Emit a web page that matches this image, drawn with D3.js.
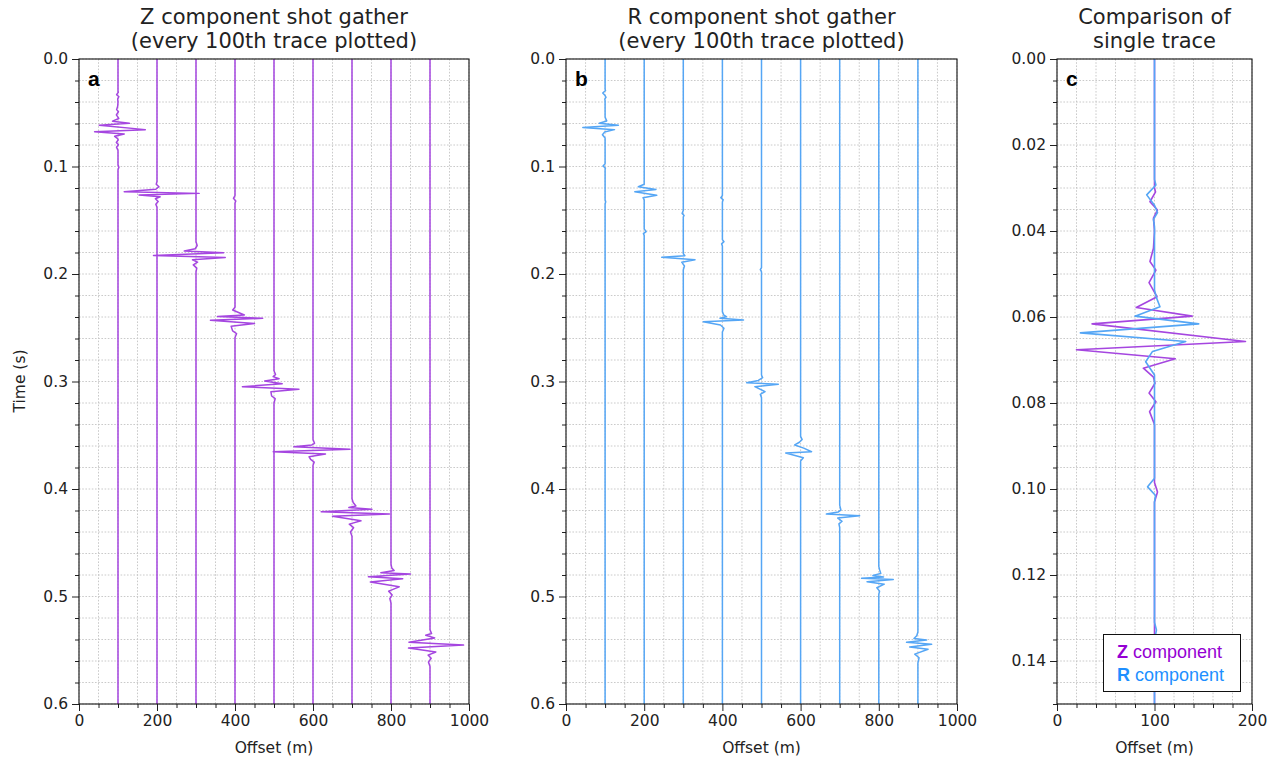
<!DOCTYPE html>
<html>
<head>
<meta charset="utf-8">
<script src="https://cdn.jsdelivr.net/npm/d3@7"></script>
<style>
  html, body { margin: 0; padding: 0; background: #fff; }
</style>
</head>
<body>
<svg id="fig" width="1270" height="760" font-family="DejaVu Sans, sans-serif"></svg>
<script>
// ---- Data ---------------------------------------------------------------
// Receiver offsets of the plotted traces (m)
const offsets = [100, 200, 300, 400, 500, 600, 700, 800, 900];

// Z component wavelets: [time (s), deflection in gather display units]
const zWavelets = [
  [[0.030,0],[0.0309,0.8],[0.0332,-3.5],[0.0351,2.3],[0.037,-0.8],[0.040,0],[0.044,-0.8],[0.0471,-3.5],
   [0.0491,1.1],[0.0520,-4.2],[0.0553,2],[0.0578,-14],[0.0598,29],[0.0616,-48],[0.0657,70],[0.0676,-60],
   [0.0697,16],[0.0719,-8.6],[0.0740,-0.8],[0.0754,0.4],[0.0777,-4.2],[0.0797,1.1],[0.0820,-3.8],[0.085,0],
   [0.0985,0],[0.1007,2.3],[0.103,0]],
  [[0.114,0],[0.1165,-2],[0.1188,5],[0.1212,-3],[0.1234,-84],[0.1250,108],[0.1266,-46],[0.1282,8],
   [0.1300,-4],[0.1325,3],[0.1350,-3],[0.138,0]],
  [[0.170,0],[0.1735,3],[0.1765,-2],[0.1786,-30],[0.1802,71],[0.1828,-109],[0.1846,75],[0.1868,-9],
   [0.1890,4],[0.1915,-7],[0.1945,2],[0.198,0]],
  [[0.127,0],[0.1296,-4],[0.132,2],[0.134,0],
   [0.231,0],[0.2335,-6],[0.2381,24],[0.2395,-45],[0.2412,71],[0.2431,-63],[0.2460,50],[0.2485,-10],
   [0.2530,-6],[0.2555,4],[0.259,0]],
  [[0.290,0],[0.2935,4],[0.2955,-2],[0.2975,13],[0.2995,-24],[0.3020,21],[0.3048,-81],[0.3072,64],
   [0.3095,-8],[0.3135,-6],[0.3160,3],[0.320,0]],
  [[0.354,0],[0.3575,4],[0.3590,-3],[0.3607,-49],[0.3630,95],[0.3653,-102],[0.3675,32],[0.3700,-10],
   [0.3725,-6],[0.3750,3],[0.378,0]],
  [[0.409,0],[0.4125,3],[0.4158,10],[0.4172,-8],[0.4189,51],[0.4211,-79],[0.4233,96],[0.4254,-50],
   [0.4296,23],[0.4327,-7],[0.4360,4],[0.4400,-4],[0.444,0]],
  [[0.470,0],[0.4735,2],[0.4758,8],[0.4778,-26],[0.4790,50],[0.4816,-58],[0.4834,30],[0.4865,-53],
   [0.4910,21],[0.4950,-6],[0.4985,3],[0.502,-3],[0.506,0]],
  [[0.531,0],[0.5345,4],[0.5360,-11],[0.5385,12],[0.5425,-54],[0.5452,86],[0.5480,-55],[0.5516,15],
   [0.5545,-5],[0.5575,3],[0.561,-4],[0.565,0]]
];

// R component wavelets: [time (s), deflection in gather display units]
const rWavelets = [
  [[0.028,0],[0.0293,1.1],[0.0316,-6],[0.0340,0],[0.0357,2.3],[0.0373,-0.8],[0.039,0],[0.0537,0],
   [0.0555,1.5],[0.0576,4.2],[0.0598,-15],[0.0616,34],[0.0637,-57],[0.0657,24],[0.0680,-1.5],[0.0704,-6.8],
   [0.0735,0],[0.0975,0],[0.0995,-5.3],[0.1015,0.8],[0.103,0],[0.131,0],[0.1328,1.5],[0.135,0]],
  [[0.1165,0],[0.1188,-15],[0.1214,30],[0.1234,-24],[0.1268,32],[0.1290,-3],[0.131,0],
   [0.158,0],[0.1606,5],[0.1625,-2],[0.164,0]],
  [[0.141,0],[0.1436,-3],[0.1455,2],[0.147,0],[0.181,0],[0.1830,4],[0.1845,-55],[0.1868,30],
   [0.1890,-4],[0.1925,3],[0.196,0]],
  [[0.127,0],[0.129,-4],[0.131,2],[0.133,0],[0.168,0],[0.1700,4],[0.1720,-2],[0.174,0],
   [0.2350,0],[0.2380,3],[0.2397,10],[0.2412,-6],[0.2428,54],[0.2444,-49],[0.2475,-5],[0.2505,4],[0.2540,0]],
  [[0.194,0],[0.196,-3],[0.198,0],
   [0.2940,0],[0.2965,3],[0.2990,-8],[0.3011,-38],[0.3026,43],[0.3048,-17],[0.3094,9],[0.3120,-3],[0.315,0]],
  [[0.3510,0],[0.3540,4],[0.3565,-3],[0.3590,-15],[0.3620,8],[0.3653,28],[0.3665,-38],[0.3710,7],[0.3740,0]],
  [[0.4150,0],[0.4195,3],[0.4215,-4],[0.4233,-34],[0.4249,51],[0.4270,-5],[0.4300,6],[0.4325,-2],[0.436,0]],
  [[0.4720,0],[0.4750,2],[0.4785,5],[0.4805,-15],[0.4818,12],[0.4831,-44],[0.4842,37],[0.4862,-30],
   [0.4885,14],[0.4919,-5],[0.4950,2],[0.498,0]],
  [[0.5330,0],[0.5365,-3],[0.5390,-10],[0.5405,22],[0.5426,-29],[0.5445,35],[0.5469,-21],[0.5490,26],
   [0.5536,-8],[0.5570,3],[0.562,0]]
];

// Axis ticks
const gatherXTicks = [0, 200, 400, 600, 800, 1000];
const gatherYTicks = [0.0, 0.1, 0.2, 0.3, 0.4, 0.5, 0.6];
const singleXTicks = [0, 100, 200];
const singleYTicks = [0.00, 0.02, 0.04, 0.06, 0.08, 0.10, 0.12, 0.14];

// ---- Style --------------------------------------------------------------
const zColor = "#a546e0";
const rColor = "#55a6f5";
const zText = "#9400d3";
const rText = "#1e8fff";
const singleGain = 4 / 3;   // trace amplification in the single-trace panel
const plotTop = 59, plotBottom = 704;

const svg = d3.select("#fig");

function range(a, b, step) {
  const n = Math.round((b - a) / step);
  return d3.range(n + 1).map(i => +(a + i * step).toFixed(6));
}

function panel(opts) {
  const x = d3.scaleLinear().domain(opts.xDomain).range([opts.left, opts.right]);
  const y = d3.scaleLinear().domain(opts.yDomain).range([plotTop, plotBottom]);
  const g = svg.append("g");

  const clipId = "clip-" + opts.id;
  svg.append("clipPath").attr("id", clipId)
    .append("rect").attr("x", opts.left).attr("y", plotTop)
    .attr("width", opts.right - opts.left).attr("height", plotBottom - plotTop);

  // dotted grid on major and minor ticks
  const grid = g.append("g").attr("stroke", "#c4c4c4").attr("stroke-width", 0.9)
    .attr("stroke-dasharray", "1.6,1.6");
  grid.selectAll(".gx").data(opts.xMinor).join("line")
    .attr("x1", d => x(d)).attr("x2", d => x(d)).attr("y1", plotTop).attr("y2", plotBottom);
  grid.selectAll(".gy").data(opts.yMinor).join("line")
    .attr("y1", d => y(d)).attr("y2", d => y(d)).attr("x1", opts.left).attr("x2", opts.right);

  // traces
  const line = d3.line();
  const tr = g.append("g").attr("clip-path", `url(#${clipId})`).attr("fill", "none");
  opts.traces.forEach(t => {
    const pts = [[opts.yDomain[0], 0], ...t.pts, [opts.yDomain[1], 0]];
    tr.append("path")
      .attr("d", line(pts.map(p => [x(t.offset + t.gain * p[1]), y(p[0])])))
      .attr("stroke", t.color).attr("stroke-width", t.width)
      .attr("stroke-linejoin", "round");
  });

  // axes
  const fmtY = d3.format(opts.yFormat);
  g.append("g").attr("transform", `translate(0,${plotBottom})`)
    .call(d3.axisBottom(x).tickValues(opts.xTicks).tickSize(7).tickPadding(4).tickFormat(d3.format("d")));
  g.append("g").attr("transform", `translate(0,${plotBottom})`)
    .call(d3.axisBottom(x).tickValues(opts.xMinor.filter(v => !opts.xTicks.includes(v))).tickSize(4).tickFormat(""));
  g.append("g").attr("transform", `translate(${opts.left},0)`)
    .call(d3.axisLeft(y).tickValues(opts.yTicks).tickSize(7).tickPadding(4).tickFormat(fmtY));
  g.append("g").attr("transform", `translate(${opts.left},0)`)
    .call(d3.axisLeft(y).tickValues(opts.yMinor.filter(v => !opts.yTicks.some(t => Math.abs(t - v) < 1e-9))).tickSize(4).tickFormat(""));
  g.selectAll(".domain").remove();
  g.selectAll(".tick line").attr("stroke", "#222").attr("stroke-width", 1);
  g.selectAll(".tick text").attr("font-size", "15.5px").attr("fill", "#222")
    .attr("font-family", "DejaVu Sans, sans-serif");

  // frame
  g.append("rect").attr("x", opts.left).attr("y", plotTop)
    .attr("width", opts.right - opts.left).attr("height", plotBottom - plotTop)
    .attr("fill", "none").attr("stroke", "#111").attr("stroke-width", 1.1);

  const cx = (opts.left + opts.right) / 2;
  // two-line title
  opts.title.forEach((s, i) => {
    g.append("text").attr("x", cx).attr("y", 24 + i * 24).attr("text-anchor", "middle")
      .attr("font-size", "21px").attr("fill", "#222").text(s);
  });
  // x label
  g.append("text").attr("x", cx).attr("y", 753).attr("text-anchor", "middle")
    .attr("font-size", "15.5px").attr("fill", "#222").text("Offset (m)");
  // panel letter
  g.append("text").attr("x", opts.left + 9).attr("y", 86)
    .attr("font-family", "Liberation Sans, Arial, sans-serif").attr("font-weight", "bold")
    .attr("font-size", "21px").attr("fill", "#000").text(opts.letter);
  return { x, y, g };
}

const zTraces = offsets.map((o, i) => ({ offset: o, pts: zWavelets[i], gain: 1, color: zColor, width: 1.5 }));
const rTraces = offsets.map((o, i) => ({ offset: o, pts: rWavelets[i], gain: 1, color: rColor, width: 1.5 }));

panel({
  id: "a", left: 79, right: 469, xDomain: [0, 1000], yDomain: [0, 0.6],
  xTicks: gatherXTicks, xMinor: range(0, 1000, 50),
  yTicks: gatherYTicks, yMinor: range(0, 0.6, 0.02), yFormat: ".1f",
  traces: zTraces, title: ["Z component shot gather", "(every 100th trace plotted)"], letter: "a"
});

panel({
  id: "b", left: 566, right: 957, xDomain: [0, 1000], yDomain: [0, 0.6],
  xTicks: gatherXTicks, xMinor: range(0, 1000, 50),
  yTicks: gatherYTicks, yMinor: range(0, 0.6, 0.02), yFormat: ".1f",
  traces: rTraces, title: ["R component shot gather", "(every 100th trace plotted)"], letter: "b"
});

panel({
  id: "c", left: 1057, right: 1252, xDomain: [0, 200], yDomain: [0, 0.15],
  xTicks: singleXTicks, xMinor: range(0, 200, 20),
  yTicks: singleYTicks, yMinor: range(0, 0.15, 0.005), yFormat: ".2f",
  traces: [
    { offset: offsets[0], pts: zWavelets[0], gain: singleGain, color: zColor, width: 1.6 },
    { offset: offsets[0], pts: rWavelets[0], gain: singleGain, color: rColor, width: 1.6 }
  ],
  title: ["Comparison of", "single trace"], letter: "c"
});

// y label
svg.append("text").attr("transform", "translate(25,381) rotate(-90)")
  .attr("text-anchor", "middle").attr("font-size", "15.5px").attr("fill", "#222").text("Time (s)");

// legend
const lg = svg.append("g");
lg.append("rect").attr("x", 1103.5).attr("y", 634.5).attr("width", 137).attr("height", 57)
  .attr("fill", "#fff").attr("stroke", "#111").attr("stroke-width", 1);
const legendItems = [["Z", " component", zText], ["R", " component", rText]];
legendItems.forEach((d, i) => {
  const t = lg.append("text").attr("x", 1117).attr("y", 658 + i * 23)
    .attr("font-family", "Liberation Sans, Arial, sans-serif").attr("font-size", "18px");
  t.append("tspan").attr("font-weight", "bold").attr("fill", d[2]).text(d[0]);
  t.append("tspan").attr("fill", d[2]).text(d[1]);
});
</script>
</body>
</html>
